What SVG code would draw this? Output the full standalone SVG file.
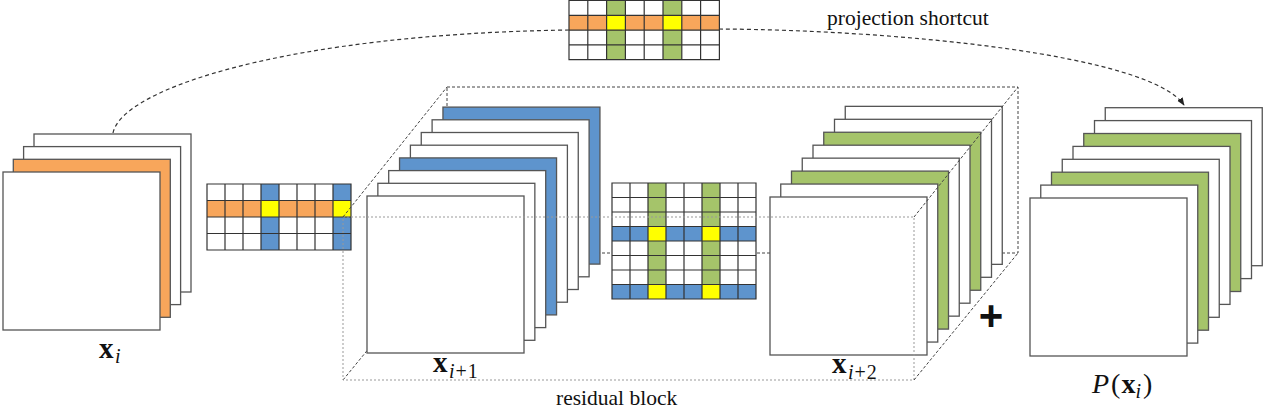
<svg xmlns="http://www.w3.org/2000/svg" width="1266" height="411" viewBox="0 0 1266 411">
<defs>
<style>
.fm{stroke:#555;stroke-width:1.3}
.w{fill:#fff}
.o{fill:#F8A65B}
.b{fill:#5E94CD}
.g{fill:#A5C46A}
.y{fill:#FFFF00}
.gl{fill:none;stroke:#333;stroke-width:1.2}
.dk{fill:none;stroke:#444;stroke-width:1;stroke-dasharray:3 2}
.lt{fill:none;stroke:#999;stroke-width:1;stroke-dasharray:2 2}
.sc{fill:none;stroke:#333;stroke-width:1.2;stroke-dasharray:4 3}
.t{fill:#111}
</style>
<marker id="ah" viewBox="0 0 10 10" refX="9" refY="5" markerWidth="8" markerHeight="8" markerUnits="userSpaceOnUse" orient="auto">
<path d="M0,1 L10,5 L0,9 z" fill="#222"/>
</marker>
</defs>
<rect width="1266" height="411" fill="#fff"/>

<!-- residual block back edges (behind stacks) -->
<g id="residual-block-back">
<path class="dk" d="M447,87 H1018 V253 H447 Z"/>
<path class="dk" d="M343,380 L447,253"/>
</g>

<!-- connectors -->
<g id="connectors">
<path class="sc" d="M113,133 C122,88 290,34 569,30"/>
<path class="sc" d="M719,29 C900,30 1150,55 1184,105" marker-end="url(#ah)"/>
</g>

<!-- x_i stack -->
<g id="node-xi">
<rect class="fm w" x="34" y="134" width="157" height="158"/>
<rect class="fm w" x="23.6" y="146.6" width="157" height="158"/>
<rect class="fm o" x="13.3" y="159.3" width="157" height="158"/>
<rect class="fm w" x="3" y="172" width="157" height="158"/>
<text class="t" font-family="'Liberation Serif','Times New Roman',serif" x="99" y="358" font-size="29" font-weight="bold">x</text>
<text class="t" font-family="'Liberation Serif','Times New Roman',serif" x="115" y="363" font-size="20" font-style="italic">i</text>
</g>

<!-- left kernel grid -->
<g id="node-grid-left">
<rect class="w" x="207" y="184" width="144" height="66"/>
<rect class="b" x="261" y="184" width="18" height="66"/>
<rect class="b" x="333" y="184" width="18" height="66"/>
<rect class="o" x="207" y="200.5" width="144" height="16.5"/>
<rect class="y" x="261" y="200.5" width="18" height="16.5"/>
<rect class="y" x="333" y="200.5" width="18" height="16.5"/>
<path class="gl" d="M207,184 H351 V250 H207 Z M225,184 V250 M243,184 V250 M261,184 V250 M279,184 V250 M297,184 V250 M315,184 V250 M333,184 V250 M207,200.5 H351 M207,217 H351 M207,233.5 H351"/>
</g>

<!-- x_{i+1} stack -->
<g id="node-xi1">
<rect class="fm b" x="442.95" y="107.1" width="157" height="157"/>
<rect class="fm w" x="432.1" y="119.8" width="157" height="157"/>
<rect class="fm w" x="421.25" y="132.5" width="157" height="157"/>
<rect class="fm w" x="410.4" y="145.2" width="157" height="157"/>
<rect class="fm b" x="399.55" y="157.9" width="157" height="157"/>
<rect class="fm w" x="388.7" y="170.6" width="157" height="157"/>
<rect class="fm w" x="377.85" y="183.3" width="157" height="157"/>
<rect class="fm w" x="367" y="196" width="157" height="157"/>
<text class="t" font-family="'Liberation Serif','Times New Roman',serif" x="433" y="372" font-size="29" font-weight="bold">x</text>
<text class="t" font-family="'Liberation Serif','Times New Roman',serif" x="449" y="378" font-size="20" letter-spacing="1"><tspan font-style="italic">i</tspan>+1</text>
</g>

<!-- middle kernel grid -->
<g id="node-grid-mid">
<rect class="w" x="612" y="183" width="144" height="116"/>
<rect class="g" x="648" y="183" width="18" height="116"/>
<rect class="g" x="702" y="183" width="18" height="116"/>
<rect class="b" x="612" y="226.5" width="144" height="14.5"/>
<rect class="b" x="612" y="284.5" width="144" height="14.5"/>
<rect class="y" x="648" y="226.5" width="18" height="14.5"/>
<rect class="y" x="702" y="226.5" width="18" height="14.5"/>
<rect class="y" x="648" y="284.5" width="18" height="14.5"/>
<rect class="y" x="702" y="284.5" width="18" height="14.5"/>
<path class="gl" d="M612,183 H756 V299 H612 Z M630,183 V299 M648,183 V299 M666,183 V299 M684,183 V299 M702,183 V299 M720,183 V299 M738,183 V299 M612,197.5 H756 M612,212 H756 M612,226.5 H756 M612,241 H756 M612,255.5 H756 M612,270 H756 M612,284.5 H756"/>
</g>

<!-- x_{i+2} stack -->
<g id="node-xi2">
<rect class="fm w" x="845.25" y="106.35" width="157" height="158"/>
<rect class="fm w" x="834.5" y="119.3" width="157" height="158"/>
<rect class="fm g" x="823.75" y="132.25" width="157" height="158"/>
<rect class="fm w" x="813" y="145.2" width="157" height="158"/>
<rect class="fm w" x="802.25" y="158.15" width="157" height="158"/>
<rect class="fm g" x="791.5" y="171.1" width="157" height="158"/>
<rect class="fm w" x="780.75" y="184.05" width="157" height="158"/>
<rect class="fm w" x="770" y="197" width="157" height="158"/>
<text class="t" font-family="'Liberation Serif','Times New Roman',serif" x="832" y="373" font-size="29" font-weight="bold">x</text>
<text class="t" font-family="'Liberation Serif','Times New Roman',serif" x="848" y="379" font-size="20" letter-spacing="1"><tspan font-style="italic">i</tspan>+2</text>
</g>

<!-- top projection kernel grid -->
<g id="node-grid-top">
<rect class="w" x="569" y="0.5" width="150.4" height="59.2"/>
<rect class="g" x="606.6" y="0.5" width="18.8" height="59.2"/>
<rect class="g" x="663" y="0.5" width="18.8" height="59.2"/>
<rect class="o" x="569" y="15.3" width="150.4" height="14.8"/>
<rect class="y" x="606.6" y="15.3" width="18.8" height="14.8"/>
<rect class="y" x="663" y="15.3" width="18.8" height="14.8"/>
<path class="gl" d="M569,0.5 H719.4 V59.7 H569 Z M587.8,0.5 V59.7 M606.6,0.5 V59.7 M625.4,0.5 V59.7 M644.2,0.5 V59.7 M663,0.5 V59.7 M681.8,0.5 V59.7 M700.6,0.5 V59.7 M569,15.3 H719.4 M569,30.1 H719.4 M569,44.9 H719.4"/>
<text class="t" font-family="'Liberation Serif','Times New Roman',serif" x="827" y="25" font-size="21.5">projection shortcut</text>
</g>

<!-- P(x_i) stack -->
<g id="node-pxi">
<rect class="fm w" x="1105.25" y="107.7" width="157" height="158"/>
<rect class="fm w" x="1094.5" y="120.6" width="157" height="158"/>
<rect class="fm g" x="1083.75" y="133.5" width="157" height="158"/>
<rect class="fm w" x="1073" y="146.4" width="157" height="158"/>
<rect class="fm w" x="1062.25" y="159.3" width="157" height="158"/>
<rect class="fm g" x="1051.5" y="172.2" width="157" height="158"/>
<rect class="fm w" x="1040.75" y="185.1" width="157" height="158"/>
<rect class="fm w" x="1030" y="198" width="157" height="158"/>
<text class="t" font-family="'Liberation Serif','Times New Roman',serif" x="1092" y="393" font-size="28"><tspan font-style="italic">P</tspan><tspan dx="2">(</tspan><tspan font-weight="bold" dx="1">x</tspan><tspan font-style="italic" font-size="20" dy="5">i</tspan><tspan dy="-5" dx="2">)</tspan></text>
</g>

<!-- residual block front edges (on top) -->
<g id="residual-block">
<rect class="lt" x="343" y="217" width="571" height="163"/>
<path class="dk" d="M343,217 L447,87"/>
<path class="dk" d="M914,217 L1018,87" stroke="#777"/>
<path class="dk" d="M914,380 L1018,253"/>
<text x="991" y="330" font-family="'Liberation Sans',Arial,sans-serif" font-size="42" font-weight="bold" text-anchor="middle" fill="#111">+</text>
<text class="t" font-family="'Liberation Serif','Times New Roman',serif" x="556" y="405" font-size="21.5">residual block</text>
</g>
</svg>
